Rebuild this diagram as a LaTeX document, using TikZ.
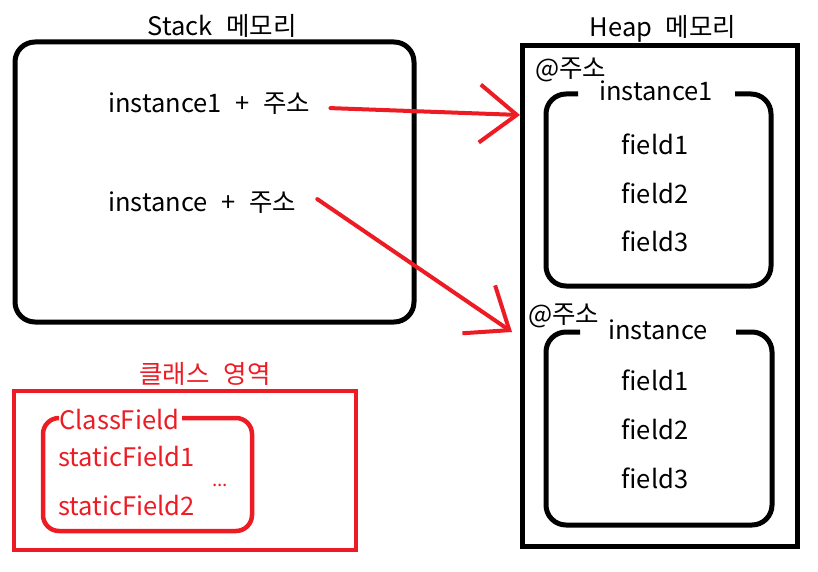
\documentclass[tikz,border=0pt]{standalone}
\usepackage{fontspec}
\setmainfont[WordSpace=2.4]{Noto Sans CJK KR}
\definecolor{memred}{RGB}{237,28,36}
\usepackage{tikz}
\usetikzlibrary{arrows.meta, positioning}

\begin{document}
\begin{tikzpicture}[x=1pt, y=-1pt,
    txt/.style={font=\fontsize{25.5}{28}\selectfont, inner sep=0pt},
    ttl/.style={txt, anchor=base},
    lft/.style={txt, anchor=base west},
    redtxt/.style={txt, text=memred},
    wall/.style={line width=5pt},
    ptr/.style={draw=memred, line width=4pt, line cap=round, -{Straight Barb[length=37pt, width=58pt]}}]
    \useasboundingbox (0,0) rectangle (818,572);

    \draw[wall, rounded corners=20pt] (15,42) rectangle (414,322);
    \node[ttl] (stack) at (222,36) {Stack 메모리};
    \node[lft] (s1) at (108,113) {instance1 + 주소};
    \node[lft] (s2) at (108,211) {instance + 주소};

    \draw[wall] (522,46) rectangle (797,546);
    \node[ttl] (heap) at (663,37) {Heap 메모리};

    \draw[wall, rounded corners=20pt] (578,94) -- (546,94) -- (546,286) -- (771,286) -- (771,94) -- (735,94);
    \node[lft] (a1) at (535,78) {@주소};
    \node[ttl] (o1) at (656,101) {instance1};
    \node[ttl] (f11) at (655,154) {field1};
    \node[ttl] (f12) at (655,203) {field2};
    \node[ttl] (f13) at (655,251) {field3};

    \draw[wall, rounded corners=20pt] (580,332) -- (546,332) -- (546,525) -- (772,525) -- (772,332) -- (736,332);
    \node[lft] (a2) at (528,323) {@주소};
    \node[ttl] (o2) at (658,339) {instance};
    \node[ttl] (f21) at (655,390) {field1};
    \node[ttl] (f22) at (655,439) {field2};
    \node[ttl] (f23) at (655,488) {field3};

    \draw[memred, line width=4.5pt] (14,391) rectangle (356,550);
    \node[redtxt, anchor=base] (cls) at (205,383) {클래스 영역};
    \draw[memred, line width=4.5pt, rounded corners=16pt] (57,418) -- (43,418) -- (43,531) -- (252,531) -- (252,418) -- (182,418);
    \node[redtxt, anchor=base west] (cf) at (59,429) {ClassField};
    \node[redtxt, anchor=base west] (sf1) at (58,466) {staticField1};
    \node[redtxt, anchor=base west] (sf2) at (58,515) {staticField2};
    \node[redtxt, anchor=base, font=\fontsize{19}{21}\selectfont] (dots) at (220,486) {...};

    \coordinate (t1) at (520,115);
    \coordinate (t2) at (512,332);
    \draw[ptr] ([xshift=20pt, yshift=-4pt]s1.east) -- (t1);
    \draw[ptr] ([xshift=21pt, yshift=3pt]s2.east) -- (t2);
\end{tikzpicture}
\end{document}
